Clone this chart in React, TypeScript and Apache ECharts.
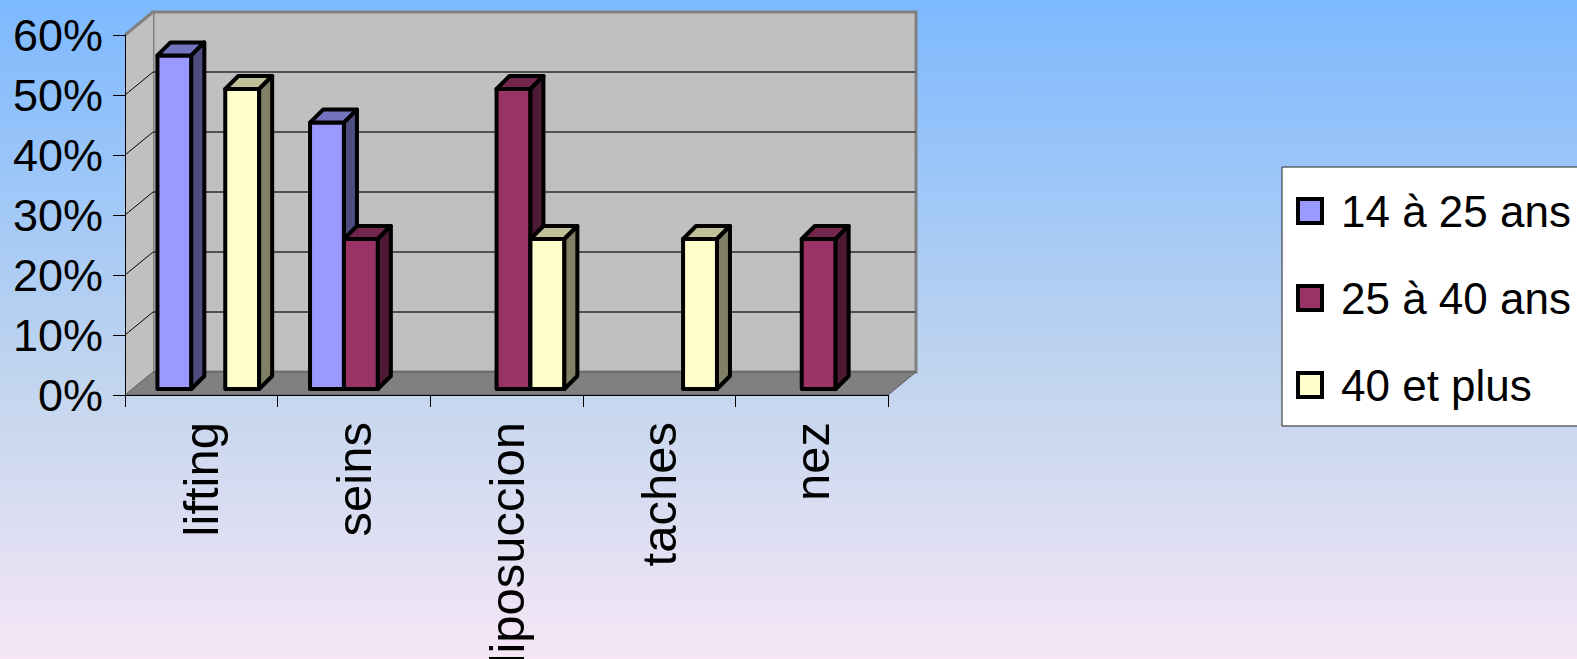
import React, { useEffect, useRef } from 'react';
import * as echarts from 'echarts';

const categories = ['lifting', 'seins', 'liposuccion', 'taches', 'nez'];
const seriesNames = ['14 à 25 ans', '25 à 40 ans', '40 et plus'];
const values14to25 = [0.556, 0.444, 0, 0, 0];
const values25to40 = [0, 0.25, 0.5, 0, 0.25];
const values40plus = [0.5, 0, 0.25, 0.25, 0];
const yTicks = [0, 0.1, 0.2, 0.3, 0.4, 0.5, 0.6];

const faceColors = [
  { front: '#9999FF', top: '#7373C0', side: '#4D4D80' },
  { front: '#993366', top: '#73264D', side: '#4D1933' },
  { front: '#FFFFCC', top: '#C0C099', side: '#808066' },
];

const FONT = '"Liberation Sans", Arial, sans-serif';
const DEPTH = { dx: 28, dy: -23 };
const BAR_OFFSET = { dx: 7, dy: -6 };
const BAR_DEPTH = 13;

function makeBarRender(seriesIdx: number) {
  return (params: any, api: any) => {
    const cat = api.value(0);
    const v = api.value(1);
    if (!v) return null;
    const band = api.size([1, 0])[0];
    const bw = band / 4.5;
    const base = api.coord([cat, 0]);
    const topPt = api.coord([cat, v]);
    const cx = base[0] + (seriesIdx - 1) * bw;
    const x0 = cx - bw / 2 + BAR_OFFSET.dx;
    const x1 = x0 + bw;
    const yb = base[1] + BAR_OFFSET.dy;
    const yt = topPt[1] + BAR_OFFSET.dy;
    const d = BAR_DEPTH;
    const c = faceColors[seriesIdx];
    const stroke = { stroke: '#000', lineWidth: 4, lineJoin: 'round' };
    return {
      type: 'group',
      children: [
        { type: 'rect', shape: { x: x0, y: yt, width: bw, height: yb - yt }, style: { fill: c.front, ...stroke } },
        {
          type: 'polygon',
          shape: { points: [[x0, yt], [x1, yt], [x1 + d, yt - d], [x0 + d, yt - d]] },
          style: { fill: c.top, ...stroke },
        },
        {
          type: 'polygon',
          shape: { points: [[x1, yt], [x1 + d, yt - d], [x1 + d, yb - d], [x1, yb]] },
          style: { fill: c.side, ...stroke },
        },
      ],
    };
  };
}

export default function App() {
  const ref = useRef<HTMLDivElement>(null);
  useEffect(() => {
    if (!ref.current) return;
    const chart = echarts.init(ref.current, null, { renderer: 'svg' });
    const seriesValues = [values14to25, values25to40, values40plus];
    const yMin = yTicks[0];
    const yMax = yTicks[yTicks.length - 1];
    const yInterval = yTicks[1] - yTicks[0];

    const option: any = {
      animation: false,
      backgroundColor: new echarts.graphic.LinearGradient(0, 0, 0, 1, [
        { offset: 0, color: '#7DB9FF' },
        { offset: 0.6, color: '#C4D6EE' },
        { offset: 1, color: '#F6E6F6' },
      ]),
      textStyle: { fontFamily: FONT },
      grid: [
        { left: 125, top: 35, width: 763, height: 360, containLabel: false, outerBoundsMode: 'none' },
        {
          left: 153, top: 12, width: 763, height: 360, containLabel: false, outerBoundsMode: 'none',
          show: true, backgroundColor: '#C0C0C0', borderColor: '#808080', borderWidth: 3,
        },
      ],
      xAxis: [
        {
          type: 'category',
          gridIndex: 0,
          data: categories,
          z: 5,
          axisLine: { show: true, lineStyle: { color: '#000', width: 1 } },
          axisTick: { show: true, length: 12, alignWithLabel: false, lineStyle: { color: '#000', width: 1 } },
          splitLine: { show: false },
          axisLabel: {
            interval: 0,
            rotate: 90,
            margin: 27,
            fontSize: 49,
            color: '#000',
            fontFamily: FONT,
          },
        },
        { type: 'category', gridIndex: 1, data: categories, show: false },
      ],
      yAxis: [
        {
          type: 'value',
          gridIndex: 0,
          min: yMin,
          max: yMax,
          interval: yInterval,
          z: 5,
          axisLine: { show: true, lineStyle: { color: '#000', width: 1 } },
          axisTick: { show: true, length: 12, lineStyle: { color: '#000', width: 1 } },
          splitLine: { show: false },
          axisLabel: {
            margin: 22,
            fontSize: 45,
            color: '#000',
            fontFamily: FONT,
            padding: [0, 0, 10, 0],
            formatter: (v: number) => Math.round(v * 100) + '%',
          },
        },
        {
          type: 'value',
          gridIndex: 1,
          min: yMin,
          max: yMax,
          interval: yInterval,
          z: 1,
          axisLine: { show: false },
          axisTick: { show: false },
          axisLabel: { show: false },
          splitLine: {
            show: true,
            showMinLine: false,
            showMaxLine: false,
            lineStyle: { color: '#505050', width: 2 },
          },
        },
      ],
      legend: {
        data: seriesNames,
        orient: 'vertical',
        left: 1282,
        top: 167,
        icon: 'rect',
        itemWidth: 24,
        itemHeight: 24,
        itemGap: 37,
        padding: [19, 40, 16, 14],
        backgroundColor: '#ffffff',
        borderColor: '#222222',
        borderWidth: 1,
        selectedMode: false,
        itemStyle: { borderColor: '#000', borderWidth: 4 },
        textStyle: { fontSize: 44, color: '#000', fontFamily: FONT, lineHeight: 50, padding: [0, 0, 0, 14] },
      },
      series: [
        {
          type: 'custom',
          name: 'frame',
          xAxisIndex: 0,
          yAxisIndex: 0,
          z: 2,
          silent: true,
          data: [[0, 0]],
          renderItem: (params: any) => {
            const cs = params.coordSys;
            const x = cs.x, y = cs.y, w = cs.width, h = cs.height;
            const { dx, dy } = DEPTH;
            return {
              type: 'group',
              children: [
                {
                  type: 'polygon',
                  shape: { points: [[x, y], [x + dx, y + dy], [x + dx, y + h + dy], [x, y + h]] },
                  style: { fill: '#C0C0C0' },
                },
                { type: 'line', shape: { x1: x, y1: y, x2: x + dx, y2: y + dy }, style: { stroke: '#808080', lineWidth: 3 } },
                {
                  type: 'polygon',
                  shape: { points: [[x, y + h], [x + w, y + h], [x + w + dx, y + h + dy], [x + dx, y + h + dy]] },
                  style: { fill: '#808080', stroke: '#5a5a5a', lineWidth: 1 },
                },
              ],
            };
          },
        },
        {
          type: 'custom',
          name: 'sideTicks',
          xAxisIndex: 0,
          yAxisIndex: 0,
          z: 2.5,
          silent: true,
          data: yTicks.slice(1, -1).map((v) => [0, v]),
          renderItem: (params: any, api: any) => {
            const cs = params.coordSys;
            const p = api.coord([0, api.value(1)]);
            return {
              type: 'line',
              shape: { x1: cs.x, y1: p[1], x2: cs.x + DEPTH.dx, y2: p[1] + DEPTH.dy },
              style: { stroke: '#000', lineWidth: 1 },
            };
          },
        },
        ...seriesValues.map((vals, si) => ({
          type: 'custom',
          name: seriesNames[si],
          xAxisIndex: 0,
          yAxisIndex: 0,
          z: 3,
          itemStyle: { color: faceColors[si].front },
          data: vals.map((v, i) => [i, v]),
          renderItem: makeBarRender(si),
        })),
      ],
    };
    chart.setOption(option);
    return () => chart.dispose();
  }, []);
  return (
    <div
      ref={ref}
      style={{ position: 'fixed', left: 0, top: 0, width: 1577, height: 659 }}
    />
  );
}
